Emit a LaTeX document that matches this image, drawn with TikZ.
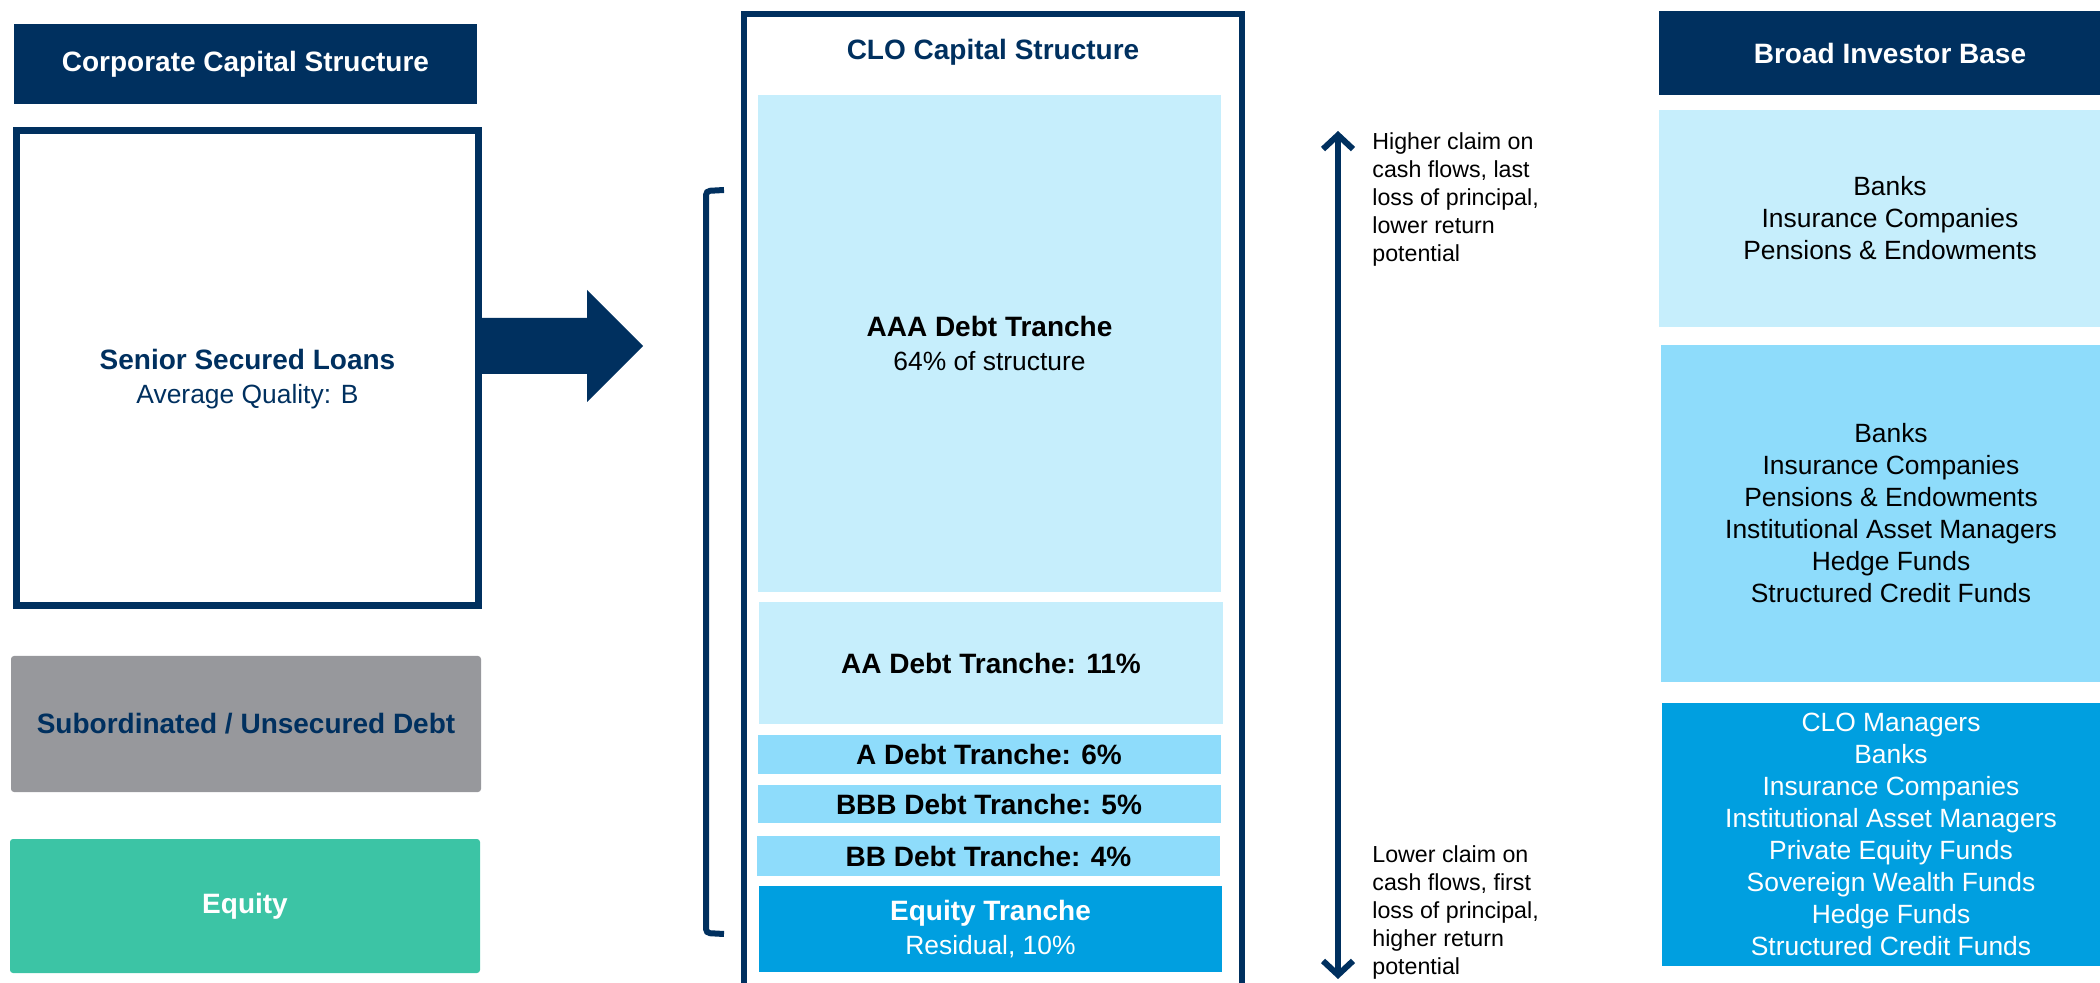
\documentclass[tikz,border=0pt]{standalone}
\usepackage{fontspec}
\setmainfont{Liberation Sans}
\usetikzlibrary{arrows.meta}

\definecolor{navy}{HTML}{00305F}
\definecolor{paleblue}{HTML}{C6EEFC}
\definecolor{midblue}{HTML}{8EDCFB}
\definecolor{deepblue}{HTML}{009FE0}
\definecolor{slate}{HTML}{97989C}
\definecolor{mint}{HTML}{3CC4A5}

\begin{document}
\begin{tikzpicture}[x=0.5pt, y=-0.5pt,
    box/.style={rectangle, inner sep=0pt, align=center},
    hdr/.style={box, fill=navy, text=white, font=\bfseries\fontsize{14}{17}\selectfont},
    tranche/.style={box, minimum width=231.5pt, font=\bfseries\fontsize{14}{17}\selectfont},
    inv/.style={box, minimum width=231pt, font=\fontsize{13.2}{16}\selectfont},
    sidenote/.style={anchor=north west, inner sep=0pt, align=left, font=\fontsize{11.6}{14}\selectfont}]
    \useasboundingbox (0,0) rectangle (2100,983);

    % Corporate side
    \path
    (245.5,64) node[hdr, minimum width=231.5pt, minimum height=40pt] (cctitle) {Corporate Capital Structure}
    (247.5,368) node[box, draw=navy, line width=3.5pt, minimum width=231pt, minimum height=237.5pt] (senior) {}
    (247.5,379) node[box, text=navy, font=\fontsize{13.2}{17}\selectfont] (seniortxt)
        {{\bfseries\fontsize{14}{17}\selectfont Senior Secured Loans}\\Average Quality: B}
    (246,724) node[box, fill=slate, rounded corners=1.5pt, minimum width=235pt, minimum height=68pt,
        text=navy, font=\bfseries\fontsize{14}{17}\selectfont] (subdebt) {Subordinated / Unsecured Debt}
    (245,906) node[box, fill=mint, rounded corners=1.5pt, minimum width=235pt, minimum height=67pt,
        text=white, font=\bfseries\fontsize{14}{17}\selectfont] (equity) {Equity}
    ;

    % Block arrow into the CLO
    \fill[navy] (480,318) -- (587,318) -- (587,290) -- (643,346) -- (587,402) -- (587,374) -- (480,374) -- cycle;

    % CLO frame and bracket
    \draw[navy, line width=3pt] (744,985) -- (744,14) -- (1242,14) -- (1242,985);
    \draw[navy, line width=3pt, rounded corners=2pt] (724,190) -- (706,191) -- (706,933) -- (724,934);

    % CLO tranches
    \path
    (993,52) node[box, text=navy, font=\bfseries\fontsize{14}{17}\selectfont] (clotitle) {CLO Capital Structure}
    (989.5,343.5) node[tranche, fill=paleblue, minimum height=248.5pt] (aaa)
        {AAA Debt Tranche\\{\mdseries\fontsize{13.2}{16}\selectfont 64\% of structure}}
    (991,663) node[tranche, fill=paleblue, minimum width=232pt, minimum height=61pt] (aa) {AA Debt Tranche: 11\%}
    (989,754.5) node[tranche, fill=midblue, minimum height=19.5pt] (atr) {A Debt Tranche: 6\%}
    (989,804) node[tranche, fill=midblue, minimum height=19pt] (bbb) {BBB Debt Tranche: 5\%}
    (988.5,856) node[tranche, fill=midblue, minimum height=20pt] (bb) {BB Debt Tranche: 4\%}
    (990.5,929) node[tranche, fill=deepblue, text=white, minimum height=43pt] (eqtr)
        {Equity Tranche\\{\mdseries\fontsize{13.2}{16}\selectfont Residual, 10\%}}
    ;

    % Seniority arrow
    \coordinate (hi) at (1338,131);
    \coordinate (lo) at (1338,979);
    \draw[navy, line width=3pt, {Straight Barb[length=7pt, width=15pt]}-{Straight Barb[length=7pt, width=15pt]}] (hi) -- (lo);
    \node[sidenote] (hinote) at (1372,132) {Higher claim on\\cash flows, last\\loss of principal,\\lower return\\potential};
    \node[sidenote] (lonote) at (1372,845) {Lower claim on\\cash flows, first\\loss of principal,\\higher return\\potential};

    % Investor side
    \path
    (1890,53) node[hdr, minimum width=231pt, minimum height=42pt] (bititle) {Broad Investor Base}
    (1890,218.5) node[inv, fill=paleblue, minimum height=108.5pt] (inv1)
        {Banks\\Insurance Companies\\Pensions \& Endowments}
    (1891,513.5) node[inv, fill=midblue, minimum width=230pt, minimum height=168.5pt] (inv2)
        {Banks\\Insurance Companies\\Pensions \& Endowments\\Institutional Asset Managers\\Hedge Funds\\Structured Credit Funds}
    (1891,834.5) node[inv, fill=deepblue, text=white, minimum width=229pt, minimum height=131.5pt] (inv3)
        {CLO Managers\\Banks\\Insurance Companies\\Institutional Asset Managers\\Private Equity Funds\\Sovereign Wealth Funds\\Hedge Funds\\Structured Credit Funds}
    ;

\end{tikzpicture}
\end{document}
